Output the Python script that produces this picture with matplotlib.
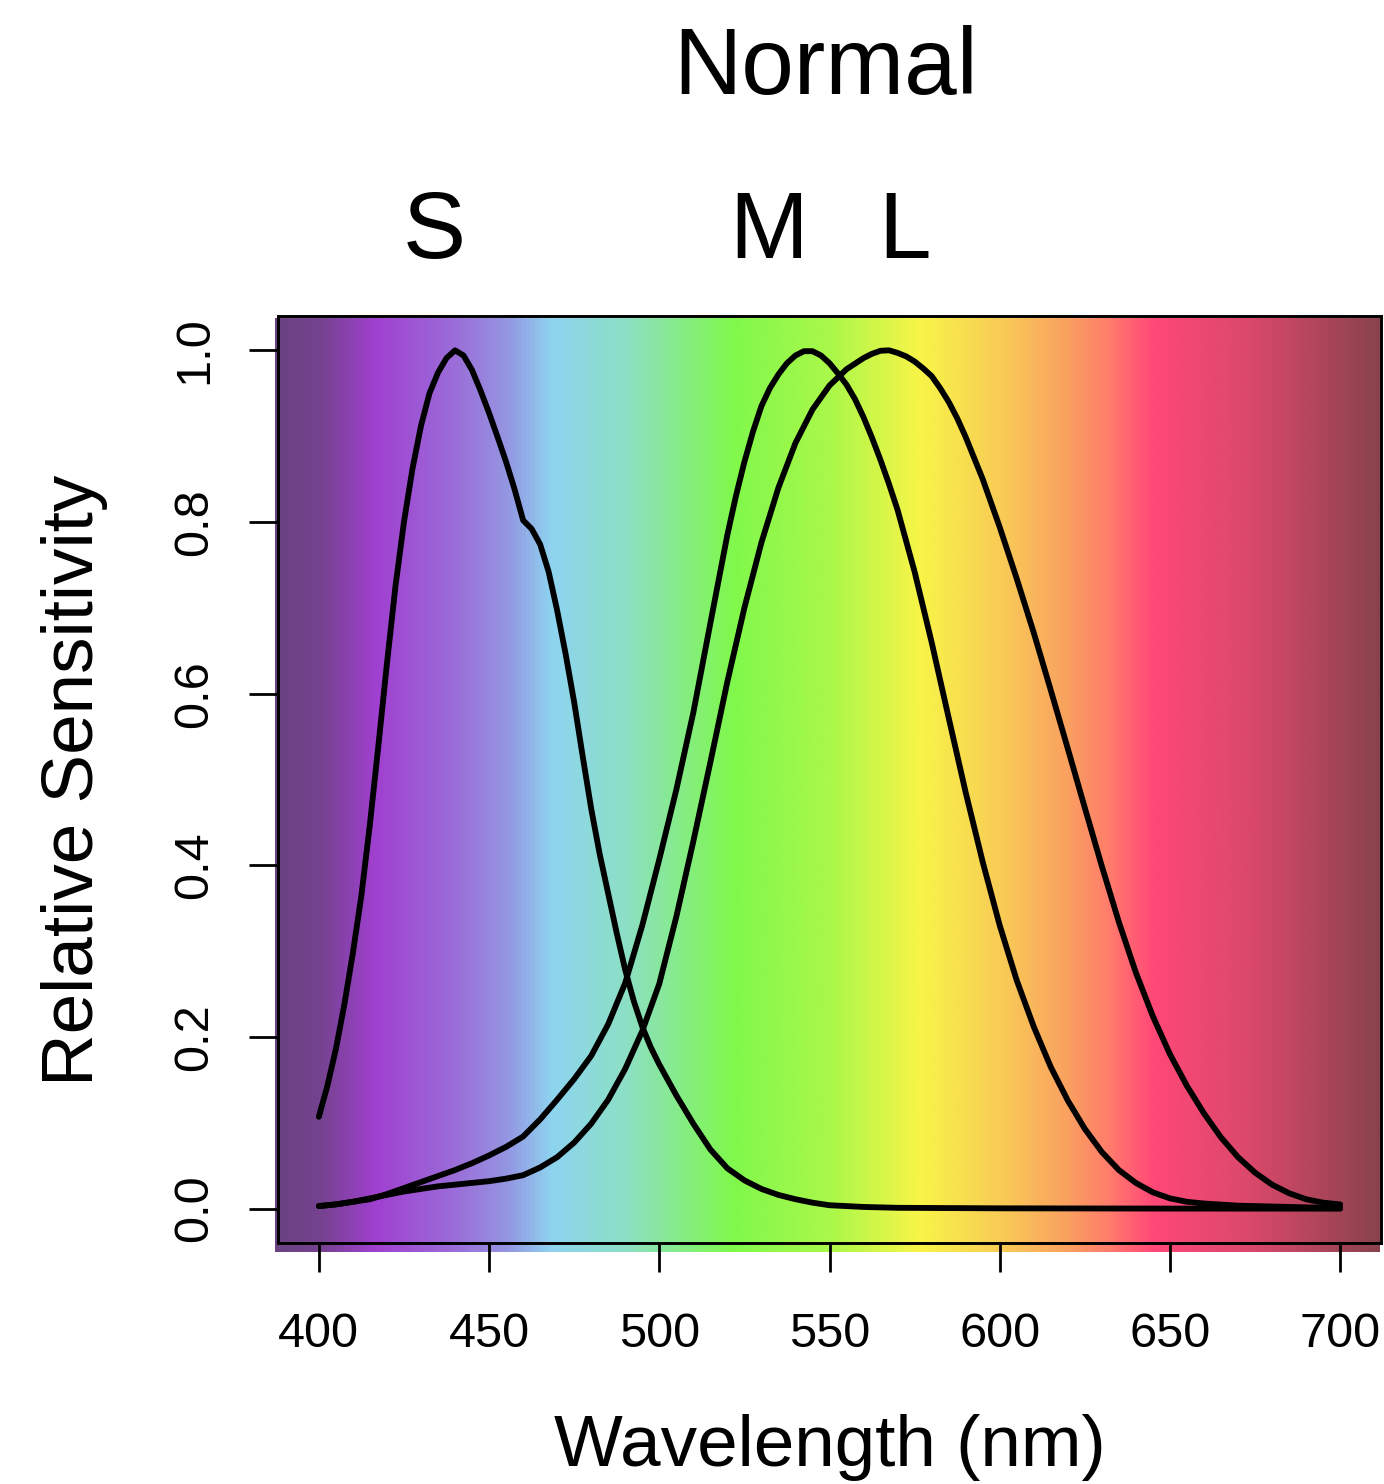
import numpy as np
import matplotlib
matplotlib.use('Agg')
import matplotlib.pyplot as plt
import matplotlib.transforms as mtransforms
from matplotlib.colors import LinearSegmentedColormap

plt.rcParams['font.family'] = ['Liberation Sans', 'DejaVu Sans']

# cone sensitivities (denser where the curves bend)
s_wl = [400, 402.5, 405, 407.5, 410, 412.5, 415, 417.5, 420, 422.5,
        425, 427.5, 430, 432.5, 435, 437.5, 440, 442.5, 445, 447.5,
        450, 452.5, 455, 457.5, 460, 462.5, 465, 467.5, 470, 472.5,
        475, 477.5, 480, 482.5, 485, 487.5, 490, 492.5, 495, 497.5,
        500, 505, 510, 515, 520, 525, 530, 535, 540, 545,
        550, 555, 560, 570, 580, 600, 650, 700]
s_val = [0.107, 0.143, 0.186, 0.238, 0.298, 0.365, 0.448, 0.540, 0.635, 0.725,
         0.800, 0.862, 0.912, 0.950, 0.974, 0.991, 1.000, 0.994, 0.977, 0.953,
         0.927, 0.899, 0.870, 0.838, 0.802, 0.792, 0.774, 0.742, 0.697, 0.646,
         0.590, 0.527, 0.466, 0.413, 0.367, 0.321, 0.278, 0.242, 0.212, 0.188,
         0.168, 0.132, 0.099, 0.069, 0.047, 0.033, 0.023, 0.016, 0.011, 0.007,
         0.004, 0.003, 0.002, 0.001, 0.0008, 0.0004, 0.0001, 0.0]

m_wl = [400, 405, 410, 415, 420, 425, 430, 435, 440, 445,
        450, 455, 460, 465, 470, 475, 480, 485, 490, 495,
        500, 505, 510, 515, 520, 522.5, 525, 527.5, 530, 532.5,
        535, 537.5, 540, 542.5, 545, 547.5, 550, 552.5, 555, 557.5,
        560, 562.5, 565, 567.5, 570, 575, 580, 585, 590, 595,
        600, 605, 610, 615, 620, 625, 630, 635, 640, 645,
        650, 655, 660, 670, 680, 690, 700]
m_val = [0.003, 0.005, 0.008, 0.011, 0.017, 0.024, 0.031, 0.038, 0.045, 0.053,
         0.062, 0.072, 0.084, 0.104, 0.127, 0.151, 0.178, 0.215, 0.263, 0.330,
         0.407, 0.488, 0.578, 0.682, 0.785, 0.830, 0.870, 0.905, 0.935, 0.956,
         0.972, 0.985, 0.994, 0.999, 0.999, 0.994, 0.985, 0.973, 0.960, 0.943,
         0.922, 0.898, 0.872, 0.844, 0.814, 0.742, 0.660, 0.572, 0.485, 0.404,
         0.330, 0.266, 0.212, 0.165, 0.126, 0.093, 0.066, 0.045, 0.030, 0.019,
         0.012, 0.008, 0.006, 0.0035, 0.0025, 0.0015, 0.001]

l_wl = [400, 405, 410, 415, 420, 425, 430, 435, 440, 445,
        450, 455, 460, 465, 470, 475, 480, 485, 490, 495,
        500, 505, 510, 515, 520, 525, 530, 535, 540, 545,
        550, 555, 560, 562.5, 565, 567.5, 570, 572.5, 575, 577.5,
        580, 582.5, 585, 587.5, 590, 595, 600, 605, 610, 615,
        620, 625, 630, 635, 640, 645, 650, 655, 660, 665,
        670, 675, 680, 685, 690, 695, 700]
l_val = [0.003, 0.005, 0.008, 0.012, 0.016, 0.020, 0.023, 0.026, 0.028, 0.030,
         0.032, 0.035, 0.039, 0.048, 0.060, 0.077, 0.099, 0.127, 0.163, 0.207,
         0.262, 0.340, 0.428, 0.520, 0.614, 0.700, 0.776, 0.840, 0.892, 0.931,
         0.959, 0.978, 0.991, 0.996, 0.9995, 1.000, 0.997, 0.993, 0.987, 0.979,
         0.970, 0.956, 0.940, 0.921, 0.899, 0.850, 0.794, 0.734, 0.671, 0.604,
         0.536, 0.467, 0.399, 0.334, 0.275, 0.224, 0.180, 0.143, 0.111, 0.083,
         0.060, 0.042, 0.028, 0.018, 0.011, 0.007, 0.005]

# spectrum background colours
spec_wl = [387, 400, 416, 440, 455, 468, 490, 521, 550, 576, 600, 620, 632, 645, 675, 711]
spec_col = ['#6a4282', '#754390', '#a040d0', '#9b6fd9', '#9497e2', '#8ed4f0',
            '#8ce0c4', '#80f84c', '#aaf84a', '#f8f548', '#f8cc56', '#faa060',
            '#ff7c6c', '#ff4878', '#d8486a', '#8a434e']

cone_labels = ['S', 'M', 'L']
cone_label_x = [434, 532, 572]
xticks = [400, 450, 500, 550, 600, 650, 700]
yticks = [0.0, 0.2, 0.4, 0.6, 0.8, 1.0]

W, H = 1384, 1484
fig = plt.figure(figsize=(W / 100, H / 100), dpi=100)
ax = fig.add_axes([278 / W, 1 - 1243 / H, (1381 - 278) / W, (1243 - 316) / H])

# gradient background, sits slightly offset from the box like the original
pos = [(w - spec_wl[0]) / (spec_wl[-1] - spec_wl[0]) for w in spec_wl]
cmap = LinearSegmentedColormap.from_list('spec', list(zip(pos, spec_col)))
grad = np.linspace(0, 1, 1000)[None, :]
ax.imshow(grad, cmap=cmap, extent=[387.1, 711.4, -0.050, 1.037], aspect='auto',
          zorder=0, clip_on=False, interpolation='bilinear')

for wl, val in [(s_wl, s_val), (m_wl, m_val), (l_wl, l_val)]:
    ax.plot(wl, val, color='black', lw=4.2, solid_capstyle='round',
            solid_joinstyle='round', zorder=3)

ax.set_xlim(388, 712)
ax.set_ylim(-0.04, 1.04)
ax.set_xticks(xticks)
ax.set_xticklabels([str(t) for t in xticks])
ax.set_yticks(yticks)
ax.set_yticklabels(['%.1f' % t for t in yticks], rotation=90, va='center')
ax.tick_params(axis='both', direction='out', length=21, width=2.0, labelsize=35)
ax.tick_params(axis='x', pad=29)
ax.tick_params(axis='y', pad=23)
for sp in ax.spines.values():
    sp.set_linewidth(2.1)
    sp.set_zorder(4)

fig.text(829.5 / W, 1 - 1466 / H, 'Wavelength (nm)', ha='center', va='baseline', fontsize=52.5)
fig.text(93 / W, 1 - 780 / H, 'Relative Sensitivity', rotation=90, rotation_mode='anchor',
         ha='center', va='baseline', fontsize=52.5)
fig.text(826 / W, 1 - 94 / H, 'Normal', ha='center', va='baseline', fontsize=68)

trans = mtransforms.blended_transform_factory(ax.transData, fig.transFigure)
for lab, x in zip(cone_labels, cone_label_x):
    ax.text(x, 1 - 258 / H, lab, transform=trans, ha='center', va='baseline', fontsize=68)

fig.savefig('out.png', dpi=100)
